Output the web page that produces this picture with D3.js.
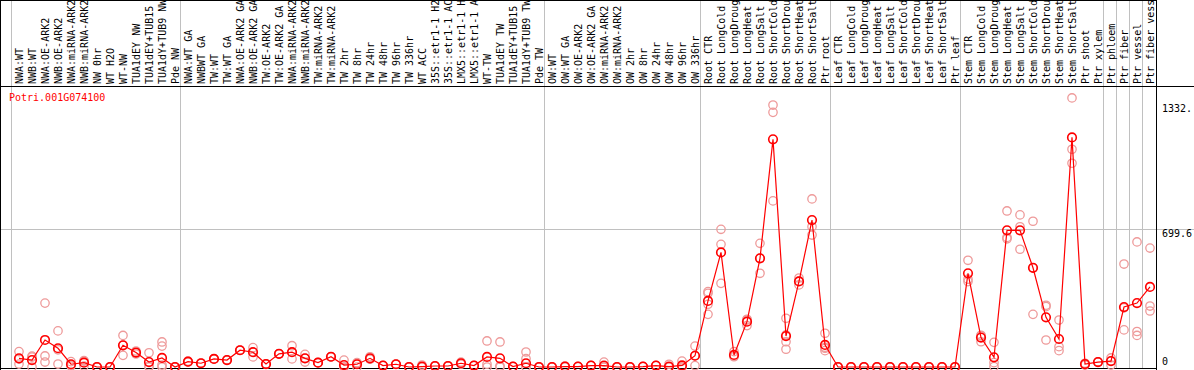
<!DOCTYPE html>
<html>
<head>
<meta charset="utf-8">
<script src="https://cdn.jsdelivr.net/npm/d3@7"></script>
<style>
  body { margin: 0; background: #fff; }
  text { font-family: "DejaVu Sans Mono", monospace; font-size: 10px; }
</style>
</head>
<body>
<div class="canvas"></div>
<script>
const geneName = "Potri.001G074100";

const samples = [
  "NWA:WT", "NWB:WT", "NWA:OE-ARK2", "NWB:OE-ARK2", "NWA:miRNA-ARK2", "NWB:miRNA-ARK2",
  "NW 0hr", "WT H2O", "WT-NW", "TUA1dEY NW", "TUA1dEY+TUB15 NW", "TUA1dY+TUB9 NW", "Pde NW",
  "NWA:WT GA", "NWBWT GA", "TW:WT", "TW:WT GA", "NWA:OE-ARK2 GA", "NWB:OE-ARK2 GA",
  "TW:OE-ARK2", "TW:OE-ARK2 GA", "NWA:miRNA-ARK2", "NWB:miRNA-ARK2", "TW:miRNA-ARK2",
  "TW:miRNA-ARK2", "TW 2hr", "TW 8hr", "TW 24hr", "TW 48hr", "TW 96hr", "TW 336hr",
  "WT ACC", "35S::etr1-1 H2O", "35S::etr1-1 ACC", "LMX5::etr1-1 H2O", "LMX5::etr1-1 ACC",
  "WT-TW", "TUA1dEY TW", "TUA1dEY+TUB15 TW", "TUA1dY+TUB9 TW", "Pde TW",
  "OW:WT", "OW:WT GA", "OW:OE-ARK2", "OW:OE-ARK2 GA", "OW:miRNA-ARK2", "OW:miRNA-ARK2",
  "OW 2hr", "OW 8hr", "OW 24hr", "OW 48hr", "OW 96hr", "OW 336hr",
  "Root CTR", "Root LongCold", "Root LongDrought", "Root LongHeat", "Root LongSalt",
  "Root ShortCold", "Root ShortDrought", "Root ShortHeat", "Root ShortSalt", "Ptr root",
  "Leaf CTR", "Leaf LongCold", "Leaf LongDrought", "Leaf LongHeat", "Leaf LongSalt",
  "Leaf ShortCold", "Leaf ShortDrought", "Leaf ShortHeat", "Leaf ShortSalt", "Ptr leaf",
  "Stem CTR", "Stem LongCold", "Stem LongDrought", "Stem LongHeat", "Stem LongSalt",
  "Stem ShortCold", "Stem ShortDrought", "Stem ShortHeat", "Stem ShortSalt", "Ptr shoot",
  "Ptr xylem", "Ptr phloem", "Ptr fiber", "Ptr vessel", "Ptr fiber vessel"
];

// mean expression per sample (red line)
const means = [
  44, 35, 137, 95, 14, 22, 0, 0, 110, 73, 25, 46, 0,
  27, 19, 41, 35, 85, 75, 15, 67, 75, 44, 22, 52, 10, 14, 44, 7, 14, 0,
  2, 5, 5, 19, 7, 51, 44, 2, 19, 0,
  0, 2, 2, 7, 7, 0, 0, 2, 7, 2, 8, 57,
  335, 581, 61, 230, 551, 1154, 157, 434, 745, 112,
  0, 0, 0, 0, 0, 0, 0, 0, 0, 0,
  475, 149, 49, 693, 693, 503, 252, 142, 1164, 15,
  25, 30, 304, 324, 406
];

// individual replicates (pink circles)
const replicates = [
  [78, 15, 40], [55, 0, 50], [324, 56, 25], [183, 15, 87], [27, 10, 5], [32, 5, 30],
  [0, 0, 0], [0, 0, 0], [160, 59, 110], [81, 66, 72], [72, 5, 0], [127, 106, 10, 0], [0, 0, 0],
  [30, 25, 27], [19, 19, 19], [41, 41, 41], [35, 35, 35], [85, 85, 85], [98, 51, 76],
  [15, 15, 15], [67, 67, 67], [108, 41, 76], [64, 25, 44], [22, 22, 22], [52, 52, 52],
  [35, 0, 0], [22, 0, 20], [52, 40, 40], [7, 7, 7], [14, 14, 14], [0, 0, 0],
  [10, 0, 0], [5, 5, 5], [5, 5, 5], [25, 19, 14], [7, 7, 7],
  [132, 14, 0], [127, 0, 5], [2, 2, 2], [76, 42, 0, 0], [0, 0, 0],
  [0, 0, 0], [5, 2, 0], [2, 2, 2], [7, 7, 7], [25, 0, 0], [0, 0, 0], [0, 0, 0],
  [2, 2, 2], [7, 7, 7], [14, 0, 0], [30, 0, 0], [106, 7, 58],
  [374, 382, 267, 318], [698, 622, 424], [78, 52, 55], [238, 210, 242], [627, 475, 551],
  [1328, 1291, 842], [247, 128, 90, 163], [451, 416, 436], [852, 711, 669], [171, 83, 95, 100],
  [0, 0, 0], [0, 0, 0], [0, 0, 0], [0, 0, 0], [0, 0, 0],
  [0, 0, 0], [0, 0, 0], [0, 0, 0], [0, 0, 0], [0, 0, 0],
  [541, 445, 433], [161, 128, 158], [125, 22, 2], [791, 650, 657], [771, 711, 597],
  [739, 267, 503], [313, 137, 306], [238, 103, 83], [1364, 1104, 1033], [19, 15, 10],
  [25, 25, 25], [46, 30, 10], [522, 188, 300], [634, 180, 160], [603, 309, 284]
];

// group boundaries: a grey rule is drawn before these sample indexes
const groupStarts = [0, 13, 41, 53, 63, 73, 84, 85, 86, 87];

const tickValues = [0, 699.6, 1332.5];
const tickLabels = ["0", "699.6", "1332."];

const width = 1194, height = 370;
const labelBottom = 86, plotRight = 1156, plotBottom = 368;

const svg = d3.select(".canvas").append("svg")
  .attr("width", width).attr("height", height);

svg.append("rect").attr("width", width).attr("height", height).attr("fill", "#fff");

let xScale = d3.scalePoint().domain(d3.range(samples.length)).range([19, 1150]);
let yScale = d3.scaleLinear().domain([0, 699.6]).range([367, 229]);

// grey rules between groups
svg.selectAll(".sep")
  .data(groupStarts)
  .join("line")
  .attr("x1", (d) => Math.round(xScale(d) - 8) + 0.5)
  .attr("x2", (d) => Math.round(xScale(d) - 8) + 0.5)
  .attr("y1", 0).attr("y2", plotBottom)
  .attr("stroke", "#c0c0c0");

// middle gridline
svg.append("line")
  .attr("x1", 0).attr("x2", width)
  .attr("y1", Math.round(yScale(699.6)) + 0.5).attr("y2", Math.round(yScale(699.6)) + 0.5)
  .attr("stroke", "#c0c0c0");

// frame
const frame = [
  [0, 0.5, plotRight, 0.5],
  [0, labelBottom + 0.5, width, labelBottom + 0.5],
  [0, plotBottom + 0.5, plotRight, plotBottom + 0.5],
  [0.5, 0, 0.5, height],
  [plotRight + 0.5, 0, plotRight + 0.5, height]
];
svg.selectAll(".frame")
  .data(frame)
  .join("line")
  .attr("x1", (d) => d[0]).attr("y1", (d) => d[1])
  .attr("x2", (d) => d[2]).attr("y2", (d) => d[3])
  .attr("stroke", "#000");

// rotated sample labels, clipped at the top
svg.append("clipPath").attr("id", "labclip")
  .append("rect").attr("x", 0).attr("y", 1).attr("width", plotRight).attr("height", labelBottom - 1);

svg.append("g").attr("clip-path", "url(#labclip)")
  .selectAll("text")
  .data(samples)
  .join("text")
  .attr("transform", (d, i) => `translate(${xScale(i) + 4},${labelBottom - 2}) rotate(-90)`)
  .attr("fill", "#000")
  .text((d) => d);

// gene name
svg.append("text")
  .attr("x", 9).attr("y", 101)
  .attr("fill", "#ff0000")
  .text(geneName);

// right axis labels
svg.selectAll(".tick")
  .data(tickValues)
  .join("text")
  .attr("x", 1162)
  .attr("y", (d, i) => (i === 0 ? yScale(d) - 2 : yScale(d) + 8))
  .attr("fill", "#000")
  .text((d, i) => tickLabels[i]);

// replicate points
let repPoints = [];
replicates.forEach((reps, i) => {
  reps.forEach((v) => repPoints.push({ i: i, v: v }));
});

svg.append("g")
  .selectAll("circle")
  .data(repPoints)
  .join("circle")
  .attr("cx", (d) => xScale(d.i))
  .attr("cy", (d) => yScale(d.v))
  .attr("r", 4.2)
  .attr("fill", "none")
  .attr("stroke", "#ee9a9a")
  .attr("stroke-width", 1.3);

// mean line
let line = d3.line()
  .x((d, i) => xScale(i))
  .y((d) => yScale(d));

svg.append("path")
  .datum(means)
  .attr("d", line)
  .attr("fill", "none")
  .attr("stroke", "#ff0000")
  .attr("stroke-width", 1.2);

svg.append("g")
  .selectAll("circle")
  .data(means)
  .join("circle")
  .attr("cx", (d, i) => xScale(i))
  .attr("cy", (d) => yScale(d))
  .attr("r", 4.3)
  .attr("fill", "none")
  .attr("stroke", "#ff0000")
  .attr("stroke-width", 1.6);
</script>
</body>
</html>
